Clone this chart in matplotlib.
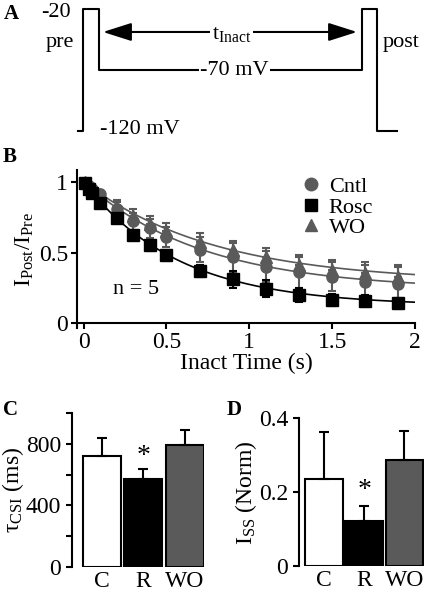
import numpy as np
import matplotlib
matplotlib.use("Agg")
import matplotlib.pyplot as plt
from matplotlib.lines import Line2D

plt.rcParams.update({
    'font.family': 'Liberation Serif',
    'font.size': 16,
    'mathtext.fontset': 'custom',
    'mathtext.rm': 'Liberation Serif',
    'mathtext.it': 'Liberation Serif',
    'axes.linewidth': 1.5,
    'xtick.major.width': 1.5,
    'ytick.major.width': 1.5,
    'ytick.minor.width': 1.5,
    'xtick.major.size': 4.5,
    'ytick.major.size': 4.5,
    'ytick.minor.size': 4.5,
})

GRIS = '#5a5a5a'

# --- A: protocolo de voltaje (duraciones arbitrarias, mV) ---
prot_dur = [5, 16, 263, 15, 20]
prot_mv = [-120, -20, -70, -20, -120]

# --- B: curso temporal de inactivacion ---
t_inact = [0.01, 0.03, 0.05, 0.1, 0.2, 0.3, 0.4, 0.5, 0.7, 0.9, 1.1, 1.3, 1.5, 1.7, 1.9]
cntl = [0.99, 0.97, 0.95, 0.91, 0.81, 0.72, 0.67, 0.61, 0.52, 0.465, 0.40, 0.36, 0.33, 0.295, 0.275]
cntl_err = [0.01, 0.015, 0.02, 0.03, 0.05, 0.06, 0.07, 0.07, 0.09, 0.10, 0.11, 0.11, 0.10, 0.12, 0.12]
rosc = [0.99, 0.95, 0.92, 0.85, 0.745, 0.625, 0.55, 0.48, 0.37, 0.31, 0.245, 0.198, 0.165, 0.157, 0.141]
rosc_err = [0.01, 0.01, 0.015, 0.02, 0.025, 0.03, 0.04, 0.04, 0.045, 0.06, 0.06, 0.05, 0.045, 0.045, 0.04]
wo = [1.0, 0.97, 0.95, 0.91, 0.82, 0.76, 0.70, 0.65, 0.575, 0.515, 0.47, 0.41, 0.375, 0.355, 0.33]
wo_err = [0.01, 0.015, 0.02, 0.03, 0.05, 0.05, 0.06, 0.06, 0.06, 0.065, 0.065, 0.075, 0.07, 0.08, 0.085]

# --- C / D: parametros del ajuste exponencial ---
grupos = ['C', 'R', 'WO']
tau_ms = [722, 570, 793]
tau_err = [120, 67, 98]
iss = [0.236, 0.123, 0.287]
iss_err = [0.126, 0.040, 0.079]
colores_barra = ['white', 'black', GRIS]

fig = plt.figure(figsize=(4.25, 5.91), dpi=100)
W, H = 425.0, 591.0


def rect(x0, y0, x1, y1):
    # pixeles (origen arriba-izquierda) -> fraccion de figura
    return [x0 / W, 1 - y1 / H, (x1 - x0) / W, (y1 - y0) / H]


# ================= A =================
axA = fig.add_axes(rect(0, 0, 425, 140))
axA.axis('off')
bordes = np.concatenate([[0], np.cumsum(prot_dur)])
xs = np.repeat(bordes, 2)[1:-1]
ys = np.repeat(prot_mv, 2)
axA.plot(xs, ys, color='black', lw=1.5)
axA.set_xlim(-78, 347)
axA.set_ylim(-127.1, -12.4)
t_pre_fin = bordes[2]
t_post_ini = bordes[3]
axA.annotate('', xy=(t_pre_fin + 4, -38.6), xytext=(t_post_ini - 5, -38.6),
             arrowprops=dict(arrowstyle='<|-|>,head_length=1.1,head_width=0.35',
                             color='black', lw=1.5, shrinkA=0, shrinkB=0))
axA.text((t_pre_fin + t_post_ini) / 2 + 1, -41, r'$\mathrm{t_{Inact}}$', ha='center', va='center',
         fontsize=16, bbox=dict(facecolor='white', edgecolor='none', pad=1))
axA.text((t_pre_fin + t_post_ini) / 2 + 4, -70, '-70 mV', ha='center', va='center',
         fontsize=16, bbox=dict(facecolor='white', edgecolor='none', pad=1))
axA.text(-22, -22.5, '-20', ha='center', va='center', fontsize=16)
axA.text(-18, -47, 'pre', ha='center', va='center', fontsize=16)
axA.text(bordes[4] + 6, -47.5, 'post', ha='left', va='center', fontsize=16)
axA.text(22, -118.5, '-120 mV', ha='left', va='center', fontsize=16)

# ================= B =================
axB = fig.add_axes(rect(77, 170.4, 415, 328.3))
t_fit = np.linspace(0, 2, 200)
for k, c in zip([0, 1, 2], [GRIS, 'black', GRIS]):
    axB.plot(t_fit, iss[k] + (1 - iss[k]) * np.exp(-t_fit * 1000 / tau_ms[k]), color=c, lw=1.2, zorder=2)
axB.errorbar(t_inact, wo, yerr=[np.zeros(len(wo)), wo_err], fmt='^', color=GRIS, ms=8,
             capsize=3, elinewidth=1.5, capthick=1.5, zorder=3)
axB.errorbar(t_inact, cntl, yerr=cntl_err, fmt='o', color=GRIS, ms=8,
             capsize=3, elinewidth=1.5, capthick=1.5, zorder=3)
axB.errorbar(t_inact, rosc, yerr=rosc_err, fmt='s', color='black', ms=8,
             capsize=3, elinewidth=1.5, capthick=1.5, zorder=4)
axB.set_xlim(-0.04, 2.0)
axB.set_ylim(-0.035, 1.08)
axB.spines['bottom'].set_position(('data', 0))
axB.spines['top'].set_visible(False)
axB.spines['right'].set_visible(False)
axB.set_xticks([0, 0.5, 1, 1.5, 2])
axB.set_xticklabels(['0', '0.5', '1', '1.5', '2'])
axB.set_yticks([0, 0.5, 1])
axB.set_yticklabels(['0', '0.5', '1'])
axB.tick_params(labelsize=17, pad=2)
axB.set_xlabel('Inact Time (s)', fontsize=17, labelpad=0)
axB.set_ylabel(r'$\mathrm{I_{Post}/I_{Pre}}$', fontsize=17, labelpad=2)
axB.text(0.316, 0.24, 'n = 5', ha='center', va='center', fontsize=16)
handles = [Line2D([], [], marker='o', ls='none', color=GRIS, ms=9),
           Line2D([], [], marker='s', ls='none', color='black', ms=9),
           Line2D([], [], marker='^', ls='none', color=GRIS, ms=9)]
axB.legend(handles, ['Cntl', 'Rosc', 'WO'], loc='upper left', bbox_to_anchor=(0.62, 1.06),
           frameon=False, fontsize=16, handlelength=0.8, handletextpad=0.4,
           labelspacing=0.0, borderpad=0.2)

# ================= C =================
x = np.arange(len(grupos))
axC = fig.add_axes(rect(72, 413.3, 204, 566.7))
axC.bar(x, tau_ms, width=0.92, color=colores_barra, edgecolor='black', lw=1.5)
axC.errorbar(x, tau_ms, yerr=[np.zeros(3), tau_err], fmt='none', ecolor='black',
             capsize=3.5, elinewidth=1.5, capthick=1.5)
axC.text(1, 640, '*', ha='center', va='bottom', fontsize=20)
axC.set_xlim(-0.72, 2.47)
axC.set_ylim(0, 1000)
axC.set_yticks([0, 400, 800])
axC.set_yticks([200, 600, 1000], minor=True)
axC.set_xticks(x)
axC.set_xticklabels(grupos)
axC.tick_params(axis='x', length=0, pad=3)
axC.tick_params(labelsize=17)
for s in ['top', 'right', 'bottom']:
    axC.spines[s].set_visible(False)
axC.set_ylabel(r'$\mathrm{\tau_{CSI}}$ (ms)', fontsize=17, labelpad=0)

# ================= D =================
axD = fig.add_axes(rect(299.3, 418.3, 423.7, 566))
axD.bar(x, iss, width=0.93, color=colores_barra, edgecolor='black', lw=1.5)
axD.errorbar(x, iss, yerr=[np.zeros(3), iss_err], fmt='none', ecolor='black',
             capsize=3.5, elinewidth=1.5, capthick=1.5)
axD.text(1, 0.17, '*', ha='center', va='bottom', fontsize=20)
axD.set_xlim(-0.614, 2.48)
axD.set_ylim(0, 0.4)
axD.set_yticks([0, 0.2, 0.4])
axD.set_yticklabels(['0', '0.2', '0.4'])
axD.set_xticks(x)
axD.set_xticklabels(grupos)
axD.tick_params(axis='x', length=0, pad=3)
axD.tick_params(labelsize=17)
for s in ['top', 'right', 'bottom']:
    axD.spines[s].set_visible(False)
axD.set_ylabel(r'$\mathrm{I_{SS}}$ (Norm)', fontsize=17, labelpad=0)

# etiquetas de panel
for letra, px, py in [('A', 11, 14), ('B', 10, 157), ('C', 10, 410), ('D', 234, 410)]:
    fig.text(px / W, 1 - py / H, letra, fontsize=15, fontweight='bold', ha='center', va='center')

fig.savefig('out.png', dpi=100)
